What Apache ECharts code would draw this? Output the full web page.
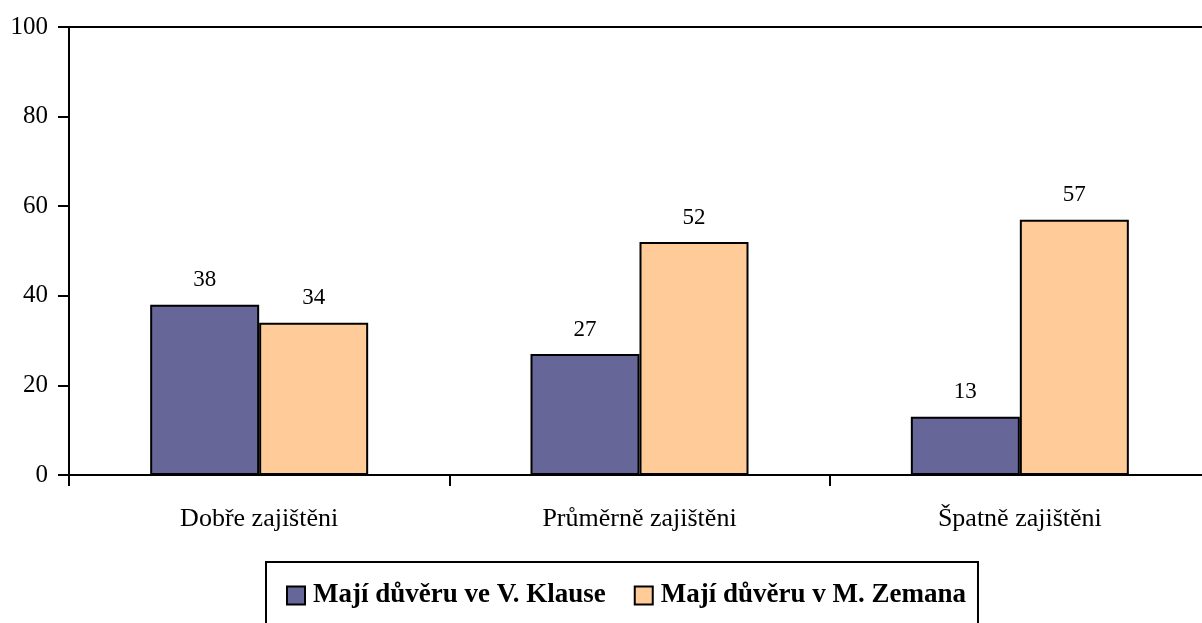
<!DOCTYPE html>
<html>
<head>
<meta charset="utf-8">
<script src="https://cdn.jsdelivr.net/npm/echarts@6/dist/echarts.min.js"></script>
<style>
  html, body { margin: 0; padding: 0; background: #fff; overflow: hidden; }
  #chart { width: 1210px; height: 623px; }
</style>
</head>
<body>
<div id="chart"></div>
<script>
(function(){
    var categories = ['Dobře zajištěni', 'Průměrně zajištěni', 'Špatně zajištěni'];
    var klausValues = [38, 27, 13];
    var zemanValues = [34, 52, 57];
    var seriesNames = ['Mají důvěru ve V. Klause', 'Mají důvěru v M. Zemana'];
    var yTicks = [0, 20, 40, 60, 80, 100];

    var font = '"Liberation Serif", "Times New Roman", serif';
    var chart = echarts.init(document.getElementById('chart'));

    var option = {
        animation: false,
        textStyle: { fontFamily: font, color: '#000' },
        grid: {
            left: 69,
            top: 27,
            right: 0,
            bottom: 148
        },
        legend: {
            data: seriesNames,
            left: 266,
            top: 562,
            padding: [20, 12, 40, 20],
            borderColor: '#000',
            borderWidth: 2,
            itemWidth: 18,
            itemHeight: 18,
            itemGap: 28,
            icon: 'rect',
            textStyle: {
                fontFamily: font,
                fontSize: 27,
                fontWeight: 'bold',
                color: '#000',
                padding: [0, 0, 0, 3]
            }
        },
        xAxis: [{
            type: 'category',
            data: categories,
            axisLine: { lineStyle: { color: '#000', width: 2 } },
            axisTick: { show: true, length: 11, lineStyle: { color: '#000', width: 2 } },
            axisLabel: { fontFamily: font, fontSize: 26, color: '#000', margin: 31 }
        }, {
            type: 'category',
            data: categories,
            position: 'top',
            axisLine: { show: true, lineStyle: { color: '#000', width: 2 } },
            axisTick: { show: false },
            axisLabel: { show: false }
        }],
        yAxis: {
            type: 'value',
            min: yTicks[0],
            max: yTicks[yTicks.length - 1],
            interval: 20,
            axisLine: { show: true, lineStyle: { color: '#000', width: 2 } },
            axisTick: { show: true, inside: false, length: 11, lineStyle: { color: '#000', width: 2 } },
            splitLine: { show: false },
            axisLabel: { fontFamily: font, fontSize: 25, color: '#000', margin: 21 }
        },
        series: [
            {
                name: seriesNames[0],
                type: 'bar',
                data: klausValues,
                barWidth: 109,
                barGap: '0%',
                itemStyle: { color: '#666699', borderColor: '#000', borderWidth: 2 },
                label: { show: true, position: 'top', distance: 13, fontFamily: font, fontSize: 23, color: '#000' }
            },
            {
                name: seriesNames[1],
                type: 'bar',
                data: zemanValues,
                barWidth: 109,
                barGap: '0%',
                itemStyle: { color: '#FFCC99', borderColor: '#000', borderWidth: 2 },
                label: { show: true, position: 'top', distance: 13, fontFamily: font, fontSize: 23, color: '#000' }
            }
        ]
    };

    chart.setOption(option);
})();
</script>
</body>
</html>
